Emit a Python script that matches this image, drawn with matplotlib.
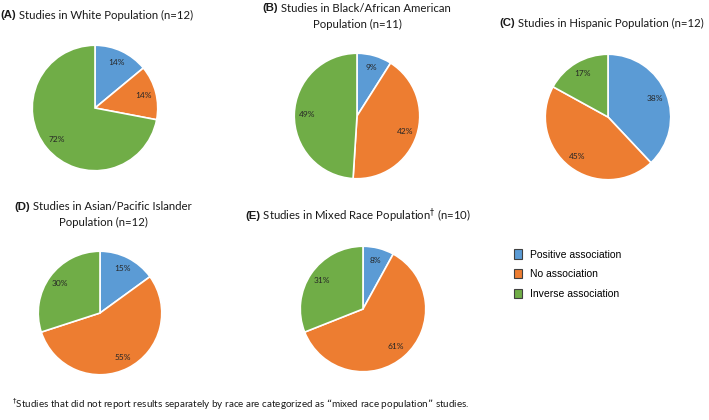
import matplotlib.pyplot as plt
from matplotlib.patches import Patch

labels = ['Positive association', 'No association', 'Inverse association']
colors = ['#5B9BD5', '#ED7D31', '#70AD47']
white = [14, 14, 72]
black = [9, 42, 49]
hispanic = [38, 45, 17]
asian = [15, 55, 30]
mixed = [8, 61, 31]

W, H = 709, 420
fig = plt.figure(figsize=(W / 100, H / 100), dpi=100)
rend = fig.canvas.get_renderer()


def pie_at(vals, cx, cy, rad):
    ax = fig.add_axes([(cx - rad) / W, 1 - (cy + rad) / H, 2 * rad / W, 2 * rad / H])
    w, _, _ = ax.pie(vals, colors=colors, startangle=90, counterclock=False,
                     autopct=lambda p: f'{p:.0f}%', pctdistance=0.8,
                     wedgeprops=dict(edgecolor='white', linewidth=1.2),
                     textprops=dict(fontsize=6, color='#262626', family='Lato'))
    ax.set_xlim(-1.02, 1.02)
    ax.set_ylim(-1.02, 1.02)
    return w


def line(x, y, segs, ha='left', size=8.2):
    txts = []
    for s, bold in segs:
        t = fig.text(0, 1 - y / H, s, fontsize=size, va='center',
                     family='Liberation Sans' if bold else 'Lato',
                     fontweight='bold' if bold else 'normal', color='#1a1a1a')
        txts.append(t)
    widths = [t.get_window_extent(rend).width for t in txts]
    x0 = x - sum(widths) / 2 if ha == 'center' else x
    for t, w in zip(txts, widths):
        t.set_x(x0 / W)
        x0 += w


pie_at(white, 95, 108, 64)
pie_at(black, 357, 116, 64)
pie_at(hispanic, 608, 117, 64)
pie_at(asian, 100, 313, 63)
wedges = pie_at(mixed, 363, 309, 64)

line(0, 15, [('(A)', True), (' Studies in White Population (n=12)', False)])
line(357, 8, [('(B)', True), (' Studies in Black/African American', False)], ha='center')
line(357, 24, [('Population (n=11)', False)], ha='center')
line(499, 23, [('(C)', True), (' Studies in Hispanic Population (n=12)', False)])
line(103, 207, [('(D)', True), (' Studies in Asian/Pacific Islander', False)], ha='center')
line(103, 222, [('Population (n=12)', False)], ha='center')
line(245, 216, [('(E)', True), (r' Studies in Mixed Race Population$^{\dagger}$ (n=10)', False)])

handles = [Patch(facecolor=c, edgecolor='#404040', linewidth=0.8) for c in colors]
fig.legend(handles, labels, loc='upper left', bbox_to_anchor=(505 / W, 1 - 240 / H),
           frameon=False, handlelength=0.7, handleheight=1.0,
           handletextpad=0.8, labelspacing=0.9, prop=dict(family='Liberation Sans', size=7.5))

fig.text(12 / W, 1 - 404 / H,
         r'$^{\dagger}$Studies that did not report results separately by race are categorized as '
         '\u201cmixed race population\u201d studies.',
         fontsize=7.1, family='Lato', va='center', color='#1a1a1a')

fig.savefig('out.png', dpi=100)
